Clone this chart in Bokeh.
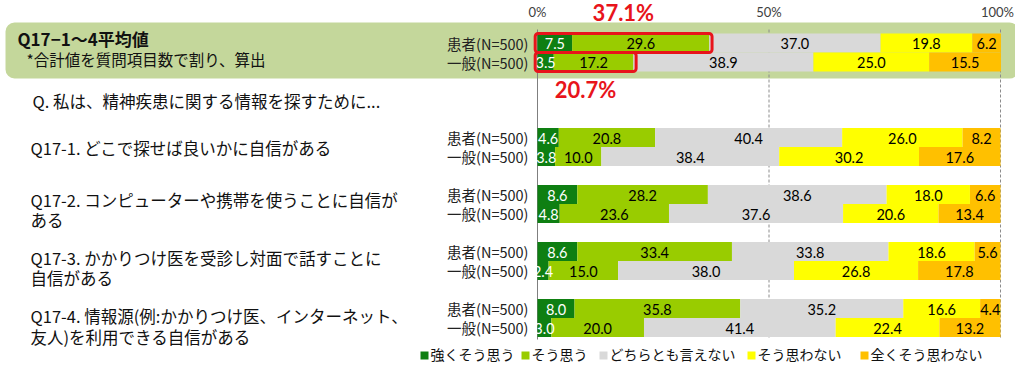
from bokeh.plotting import figure
from bokeh.models import Range1d, BoxAnnotation, ColumnDataSource
from bokeh.core.properties import value
from bokeh.embed import file_html
from bokeh.resources import INLINE

# ---------------- data ----------------
categories = ["強くそう思う", "そう思う", "どちらとも言えない", "そう思わない", "全くそう思わない"]
colors = ["#0e7f12", "#99cc00", "#d9d9d9", "#ffff00", "#ffc000"]
label_colors = ["white", "black", "black", "black", "black"]

groups = ["患者(N=500)", "一般(N=500)"]

avg_patient = [7.5, 29.6, 37.0, 19.8, 6.2]
avg_general = [3.5, 17.2, 38.9, 25.0, 15.5]

q1_patient = [4.6, 20.8, 40.4, 26.0, 8.2]
q1_general = [3.8, 10.0, 38.4, 30.2, 17.6]
q2_patient = [8.6, 28.2, 38.6, 18.0, 6.6]
q2_general = [4.8, 23.6, 37.6, 20.6, 13.4]
q3_patient = [8.6, 33.4, 33.8, 18.6, 5.6]
q3_general = [2.4, 15.0, 38.0, 26.8, 17.8]
q4_patient = [8.0, 35.8, 35.2, 16.6, 4.4]
q4_general = [3.0, 20.0, 41.4, 22.4, 13.2]

tick_values = [0, 50, 100]
tick_labels = ["0%", "50%", "100%"]

title_text = "Q17−1〜4平均値"
subtitle_text = "*合計値を質問項目数で割り、算出"
intro_text = "Q. 私は、精神疾患に関する情報を探すために..."
question_lines = [
    ["Q17-1. どこで探せば良いかに自信がある"],
    ["Q17-2. コンピューターや携帯を使うことに自信が", "ある"],
    ["Q17-3. かかりつけ医を受診し対面で話すことに", "自信がある"],
    ["Q17-4. 情報源(例:かかりつけ医、インターネット、", "友人)を利用できる自信がある"],
]

rows = [
    (avg_patient, avg_general),
    (q1_patient, q1_general),
    (q2_patient, q2_general),
    (q3_patient, q3_general),
    (q4_patient, q4_general),
]

# ---------------- layout (pixel positions of the picture) ----------------
X0, X100 = 537.0, 1000.0
SCALE = (X100 - X0) / 100.0
W, H = 1015, 364


def px(x):
    """picture pixel x -> percent data units"""
    return (x - X0) / SCALE


row_centers = [42.5, 137, 194, 251, 308]   # patient bar centers
pair_gap = 19
bar_h = 19

JP = value("Noto Sans CJK JP")
NUM = value("Lato")

p = figure(width=W, height=H, output_backend="svg", toolbar_location=None,
           x_range=Range1d(px(0), px(W)), y_range=Range1d(H, 0),
           x_axis_type=None, y_axis_type=None, min_border=0)
p.outline_line_color = None
p.xgrid.visible = False
p.ygrid.visible = False
p.background_fill_color = "white"

# green highlight box behind the average row
p.add_layout(BoxAnnotation(left=px(5), right=px(1018), top=22, bottom=78,
                           fill_color="#c4d79b", fill_alpha=1, line_color=None,
                           border_radius=9, level="underlay"))

# reference lines
p.segment(x0=[0], x1=[0], y0=[29], y1=[339], line_color="#7f7f7f", line_width=1)
p.segment(x0=tick_values[1:], x1=tick_values[1:], y0=[29, 29], y1=[339, 339],
          line_color="#8c8c8c", line_width=1, line_dash="3 2")

# tick labels (last one nudged left to stay inside the page)
tick_src = ColumnDataSource(dict(x=tick_values, y=[11] * 3, text=tick_labels,
                                 dx=[0, 0, -3]))
p.text(x="x", y="y", text="text", x_offset="dx", source=tick_src,
       text_align="center", text_baseline="middle", text_font=NUM,
       text_font_size="13px", text_color="#404040")

# bars
bar_data = {k: [] for k in ["y", "left", "right", "color"]}
lab_data = {k: [] for k in ["x", "y", "text", "color"]}
for r, (pat, gen) in enumerate(rows):
    for g, vals in enumerate((pat, gen)):
        yc = row_centers[r] + g * pair_gap
        cum = 0.0
        for c, v in enumerate(vals):
            bar_data["y"].append(yc)
            bar_data["left"].append(cum)
            bar_data["right"].append(cum + v)
            bar_data["color"].append(colors[c])
            lab_data["x"].append(cum + v / 2)
            lab_data["y"].append(yc + 0.5)
            lab_data["text"].append(f"{v:.1f}")
            lab_data["color"].append(label_colors[c])
            cum += v

p.hbar(y="y", left="left", right="right", height=bar_h, fill_color="color",
       line_color=None, source=ColumnDataSource(bar_data))
p.text(x="x", y="y", text="text", text_color="color", text_align="center",
       text_baseline="middle", text_font=NUM, text_font_size="14.5px",
       source=ColumnDataSource(lab_data))

# group labels
gl_y, gl_t = [], []
for r in range(len(rows)):
    for g in range(2):
        gl_y.append(row_centers[r] + g * pair_gap)
        gl_t.append(groups[g])
p.text(x=[px(528)] * len(gl_y), y=gl_y, text=gl_t, text_align="right",
       text_baseline="middle", text_font=JP, text_font_size="14.5px",
       text_color="#222222")

# red highlight boxes for the top-2 totals in the average row
totals = [avg_patient[0] + avg_patient[1], avg_general[0] + avg_general[1]]
for g in range(2):
    yc = row_centers[0] + g * pair_gap
    p.add_layout(BoxAnnotation(left=-0.5, right=totals[g] + 0.6,
                               top=yc - 9.5, bottom=yc + 9.5,
                               fill_alpha=0, line_color="#e8141b", line_alpha=1,
                               line_width=3, border_radius=3, level="overlay"))
p.text(x=[totals[0] / 2, totals[1] / 2], y=[12, 89],
       text=[f"{t:.1f}%" for t in totals], text_align="center",
       text_baseline="middle", text_font=NUM, text_font_size="22px",
       text_font_style="bold", text_color="#e8141b")

# left texts
p.text(x=[px(17)], y=[38], text=[title_text], text_baseline="middle",
       text_font=JP, text_font_size="17px", text_font_style="bold",
       text_color="#111111")
p.text(x=[px(26)], y=[58], text=[subtitle_text], text_baseline="middle",
       text_font=JP, text_font_size="15.5px", text_color="#111111")
p.text(x=[px(32)], y=[100], text=[intro_text], text_baseline="middle",
       text_font=JP, text_font_size="16.5px", text_color="#111111")

q_line_y = [[147], [199, 219], [257, 277], [315, 336]]
qx, qy, qt = [], [], []
for lines, ys in zip(question_lines, q_line_y):
    for t, yy in zip(lines, ys):
        qx.append(px(30))
        qy.append(yy)
        qt.append(t)
p.text(x=qx, y=qy, text=qt, text_baseline="middle", text_font=JP,
       text_font_size="16.5px", text_color="#111111")

# legend (square left edges in picture pixels)
legend_x = [420, 521, 599, 747, 860]
p.scatter(x=[px(x + 4) for x in legend_x], y=[355] * 5, marker="square",
          size=8, fill_color=colors, line_color=None)
p.text(x=[px(x + 10) for x in legend_x], y=[353] * 5, text=categories,
       text_baseline="middle", text_font=JP, text_font_size="14px",
       text_color="#111111")

open("out.html", "w").write(file_html(p, INLINE))
